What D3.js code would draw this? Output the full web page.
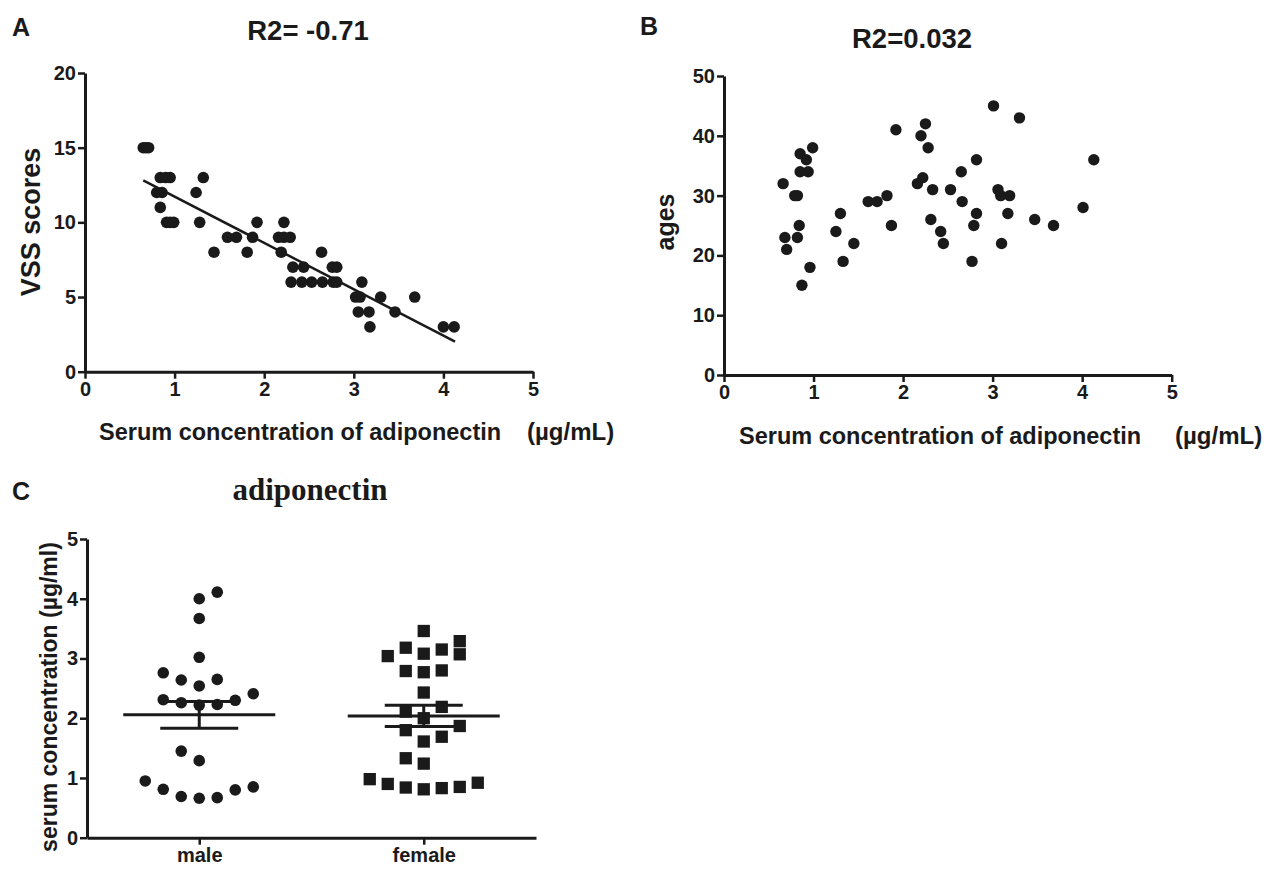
<!DOCTYPE html>
<html>
<head>
<meta charset="utf-8">
<script src="https://cdn.jsdelivr.net/npm/d3@7"></script>
<style>
  html, body { margin: 0; padding: 0; background: #fff; }
  svg { display: block; }
</style>
</head>
<body>
<svg id="chart" width="1272" height="871"></svg>
<script>
// ---------- DATA ----------
// Panel A: adiponectin (µg/mL) vs VSS scores
const vssConc  = [0.65,0.68,0.71, 0.84,0.90,0.95,1.32, 0.80,0.86,1.24, 0.84,
                  0.91,0.95,0.99,1.28,1.92,2.22, 1.59,1.69,1.87,2.16,2.22,2.29,
                  1.44,1.81,2.19,2.64, 2.32,2.44,2.76,2.81,
                  2.30,2.42,2.53,2.65,2.77,2.81,3.09, 3.02,3.07,3.30,3.68,
                  3.05,3.17,3.46, 3.18,4.00,4.12];
const vssScore = [15,15,15, 13,13,13,13, 12,12,12, 11,
                  10,10,10,10,10,10, 9,9,9,9,9,9,
                  8,8,8,8, 7,7,7,7,
                  6,6,6,6,6,6,6, 5,5,5,5,
                  4,4,4, 3,3,3];
const fitA = { slope: -3.10, intercept: 14.82, xMin: 0.65, xMax: 4.13 };

// Panel B: adiponectin (µg/mL) vs ages
const ageConc = [0.66,0.68,0.70,0.79,0.82,0.84,0.82,0.87,0.85,0.92,0.85,0.94,0.99,0.96,
                 1.25,1.30,1.33,1.45,1.61,1.71,1.82,1.87,1.92,
                 2.16,2.22,2.20,2.25,2.28,2.33,2.31,2.42,2.45,2.53,2.65,2.66,2.82,2.82,2.79,2.77,
                 3.01,3.06,3.09,3.19,3.17,3.10,3.30,3.47,3.68,4.01,4.13];
const ages    = [32,23,21,30,30,25,23,15,37,36,34,34,38,18,
                 24,27,19,22,29,29,30,25,41,
                 32,33,40,42,38,31,26,24,22,31,34,29,36,27,25,19,
                 45,31,30,30,27,22,43,26,25,28,36];

// Panel C: serum concentration by sex (value, dot-plot column slot)
const groups = ["male", "female"];
const maleVals   = [4.11,4.00,3.67,3.02,2.76,2.64,2.65,2.54,2.41,2.31,2.26,2.22,2.23,2.30,1.45,1.29,0.95,0.81,0.69,0.66,0.67,0.80,0.85];
const maleSlots  = [1,0,0,0,-2,-1,1,0,3,-2,-1,0,1,2,-1,0,-3,-2,-1,0,1,2,3];
const femaleVals = [3.46,3.04,3.18,3.08,3.15,3.29,3.07,2.79,2.77,2.80,2.43,2.19,2.11,2.00,1.87,1.80,1.61,1.69,1.33,1.24,0.98,0.90,0.84,0.81,0.83,0.85,0.92];
const femaleSlots= [0,-2,-1,0,1,2,2,-1,0,1,0,1,-1,0,2,-1,0,1,-1,0,-3,-2,-1,0,1,2,3];

const ticksA = [0,5,10,15,20];
const ticksB = [0,10,20,30,40,50];
const ticksC = [0,1,2,3,4,5];
const ticksX = [0,1,2,3,4,5];

// ---------- DRAW ----------
const svg = d3.select("#chart");
const INK = "#1a1a1a";
const SANS = "'Liberation Sans', Arial, sans-serif";
const SERIF = "'Liberation Serif', 'Times New Roman', serif";
const fmt = d3.format("d");

function txt(x, y, size, s, opts = {}) {
  return svg.append("text")
    .attr("transform", opts.rotate ? `translate(${x},${y}) rotate(-90)` : `translate(${x},${y})`)
    .style("font-family", opts.serif ? SERIF : SANS)
    .style("font-weight", "bold").style("font-size", size + "px")
    .style("fill", INK)
    .attr("text-anchor", opts.anchor || "start")
    .text(s);
}

function styleAxis(g) {
  g.selectAll(".domain").attr("stroke", INK).attr("stroke-width", 3);
  g.selectAll(".tick line").attr("stroke", INK).attr("stroke-width", 2.5);
  g.selectAll(".tick text").style("font-size", "20px").style("font-family", SANS)
    .style("font-weight", "bold").style("fill", INK);
}

// Panel A
const xA = d3.scaleLinear().domain([0,5]).range([85, 533]);
const yA = d3.scaleLinear().domain([0,20]).range([371.7, 73]);
svg.append("g").attr("transform", `translate(0,${yA(0)})`)
  .call(d3.axisBottom(xA).tickValues(ticksX).tickFormat(fmt).tickSize(7).tickSizeOuter(0).tickPadding(3))
  .call(styleAxis);
svg.append("g").attr("transform", `translate(${xA(0)},0)`)
  .call(d3.axisLeft(yA).tickValues(ticksA).tickFormat(fmt).tickSize(7).tickSizeOuter(0).tickPadding(2))
  .call(styleAxis);
svg.append("g").selectAll("circle").data(vssConc).join("circle")
  .attr("cx", (d) => xA(d)).attr("cy", (d, i) => yA(vssScore[i])).attr("r", 5.8).attr("fill", INK);
svg.append("line")
  .attr("x1", xA(fitA.xMin)).attr("y1", yA(fitA.intercept + fitA.slope * fitA.xMin))
  .attr("x2", xA(fitA.xMax)).attr("y2", yA(fitA.intercept + fitA.slope * fitA.xMax))
  .attr("stroke", INK).attr("stroke-width", 2.5);
txt(12, 36, 25, "A");
txt(308, 40, 27.5, "R2= -0.71", { anchor: "middle" });
txt(99, 440, 23.5, "Serum concentration of adiponectin");
txt(527, 440, 24, "(µg/mL)");
txt(40, 222, 27, "VSS scores", { rotate: true, anchor: "middle" });

// Panel B
const xB = d3.scaleLinear().domain([0,5]).range([724, 1171.7]);
const yB = d3.scaleLinear().domain([0,50]).range([375, 76]);
svg.append("g").attr("transform", `translate(0,${yB(0)})`)
  .call(d3.axisBottom(xB).tickValues(ticksX).tickFormat(fmt).tickSize(7).tickSizeOuter(0).tickPadding(3))
  .call(styleAxis);
svg.append("g").attr("transform", `translate(${xB(0)},0)`)
  .call(d3.axisLeft(yB).tickValues(ticksB).tickFormat(fmt).tickSize(7).tickSizeOuter(0).tickPadding(2))
  .call(styleAxis);
svg.append("g").selectAll("circle").data(ageConc).join("circle")
  .attr("cx", (d) => xB(d)).attr("cy", (d, i) => yB(ages[i])).attr("r", 5.7).attr("fill", INK);
txt(640, 35, 25, "B");
txt(912, 48, 27.5, "R2=0.032", { anchor: "middle" });
txt(739, 444, 23.5, "Serum concentration of adiponectin");
txt(1175, 444, 24, "(µg/mL)");
txt(674, 222, 25, "ages", { rotate: true, anchor: "middle" });

// Panel C
const xC = d3.scalePoint().domain(groups).range([87, 536]).padding(0.5);
const yC = d3.scaleLinear().domain([0,5]).range([837.7, 539]);
const slotW = 18;
svg.append("g").attr("transform", `translate(0,${yC(0)})`)
  .call(d3.axisBottom(xC).tickSize(7).tickSizeOuter(0).tickPadding(3))
  .call(styleAxis);
svg.append("g").attr("transform", `translate(${xC.range()[0]},0)`)
  .call(d3.axisLeft(yC).tickValues(ticksC).tickFormat(fmt).tickSize(7).tickSizeOuter(0).tickPadding(2))
  .call(styleAxis);

svg.append("g").selectAll("circle").data(maleVals).join("circle")
  .attr("cx", (d, i) => xC("male") + maleSlots[i] * slotW)
  .attr("cy", (d) => yC(d)).attr("r", 5.8).attr("fill", INK);
const sq = 12.3;
svg.append("g").selectAll("rect").data(femaleVals).join("rect")
  .attr("x", (d, i) => xC("female") + femaleSlots[i] * slotW - sq / 2)
  .attr("y", (d) => yC(d) - sq / 2).attr("width", sq).attr("height", sq).attr("fill", INK);

const stats = [
  { g: "male", vals: maleVals },
  { g: "female", vals: femaleVals }
].map(s => ({ g: s.g, mean: d3.mean(s.vals), sem: d3.deviation(s.vals) / Math.sqrt(s.vals.length) }));
const eb = svg.append("g").attr("stroke", INK).attr("stroke-width", 3);
stats.forEach(s => {
  const cx = xC(s.g);
  eb.append("line").attr("x1", cx - 76).attr("x2", cx + 76).attr("y1", yC(s.mean)).attr("y2", yC(s.mean));
  eb.append("line").attr("x1", cx).attr("x2", cx).attr("y1", yC(s.mean - s.sem)).attr("y2", yC(s.mean + s.sem));
  eb.append("line").attr("x1", cx - 39).attr("x2", cx + 39).attr("y1", yC(s.mean + s.sem)).attr("y2", yC(s.mean + s.sem));
  eb.append("line").attr("x1", cx - 39).attr("x2", cx + 39).attr("y1", yC(s.mean - s.sem)).attr("y2", yC(s.mean - s.sem));
});
txt(12, 500, 25, "C");
txt(310, 500, 31, "adiponectin", { serif: true, anchor: "middle" });
txt(57, 697, 23, "serum concentration (µg/ml)", { rotate: true, anchor: "middle" });
</script>
</body>
</html>
